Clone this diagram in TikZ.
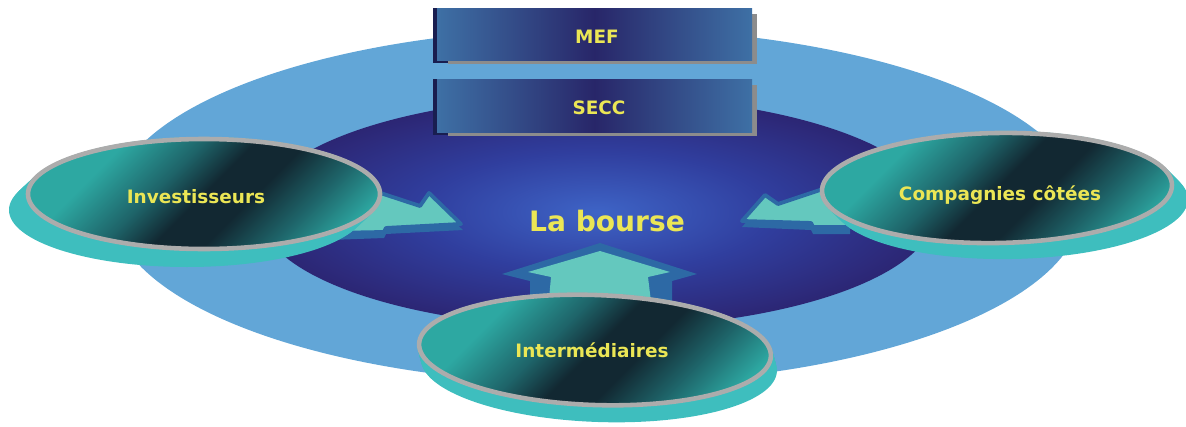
\documentclass[tikz,border=0pt]{standalone}
\usepackage{fontspec}
\setmainfont{DejaVu Sans}
\definecolor{lightbl}{RGB}{98,166,215}
\definecolor{navyedge}{RGB}{44,38,116}
\definecolor{navymid}{RGB}{48,62,158}
\definecolor{navyc}{RGB}{62,100,198}
\definecolor{tealL}{RGB}{45,168,162}
\definecolor{tealM}{RGB}{30,100,105}
\definecolor{tealD}{RGB}{18,40,50}
\definecolor{shadowT}{RGB}{62,190,190}
\definecolor{rimgray}{RGB}{172,172,172}
\definecolor{boxedge}{RGB}{62,112,165}
\definecolor{boxmid}{RGB}{40,38,105}
\definecolor{boxdark}{RGB}{25,30,80}
\definecolor{boxshadow}{RGB}{140,140,140}
\definecolor{arrowfill}{RGB}{100,200,190}
\definecolor{arrowline}{RGB}{45,105,165}
\definecolor{txtyellow}{RGB}{235,230,85}
\pgfdeclareradialshading{boursesh}{\pgfpoint{0bp}{0bp}}{color(0bp)=(navyc); color(13bp)=(navymid); color(25bp)=(navyedge); color(50bp)=(navyedge)}
\pgfdeclarehorizontalshading{discsh}{100bp}{color(0bp)=(tealL); color(30bp)=(tealL); color(42bp)=(tealM); color(50bp)=(tealD); color(58bp)=(tealD); color(68bp)=(tealM); color(78bp)=(tealL); color(100bp)=(tealL)}
\begin{document}
\begin{tikzpicture}[x=0.02cm,y=0.02cm,
  lbl/.style={text=txtyellow, font=\bfseries\fontsize{10.5}{12}\selectfont, inner sep=0pt},
  disc/.style={draw=rimgray, line width=2.6pt, shading=discsh, shading angle=-45},
  discshadow/.style={fill=shadowT},
  arrowbody/.style={fill=arrowfill, draw=arrowline, line width=2.2pt, line join=round},
  arrowshade/.style={fill=arrowline},
  boxfill/.style={left color=boxedge, right color=boxedge, middle color=boxmid}]
\useasboundingbox (0,0) rectangle (1186,-426);
% background ellipses
\fill[lightbl] (597,-206) ellipse [x radius=485, y radius=178];
\shade[shading=boursesh] (597,-212) ellipse [x radius=338, y radius=116];
% boxes
\fill[boxshadow] (448,-14) rectangle (757,-64);
\fill[boxdark] (433,-8) rectangle (448,-63);
\shade[boxfill] (437,-8) rectangle (752,-60);
\node[lbl] (mef) at (597,-37) {MEF};
\fill[boxshadow] (448,-85) rectangle (757,-136);
\fill[boxdark] (433,-79) rectangle (448,-135);
\shade[boxfill] (437,-79) rectangle (752,-132);
\node[lbl] (secc) at (599,-108) {SECC};
% arrows
\fill[arrowshade] (348,-188) -- (418,-213) -- (428,-199) -- (463,-230) -- (386,-234) -- (384,-238) -- (330,-240) -- cycle;
\path[arrowbody] (350,-183) -- (420,-206) -- (429,-193) -- (461,-224) -- (386,-228) -- (384,-232) -- (330,-233) -- cycle;
\fill[arrowshade] (742,-227) -- (765,-201) -- (778,-210) -- (850,-186) -- (850,-234) -- (813,-234) -- (811,-230) -- cycle;
\path[arrowbody] (742,-221) -- (765,-195) -- (778,-204) -- (850,-180) -- (850,-227) -- (813,-227) -- (811,-223) -- cycle;
\fill[arrowshade] (600,-243) -- (502,-274) -- (530,-281) -- (530,-310) -- (672,-310) -- (672,-281) -- (697,-274) -- cycle;
\fill[arrowfill] (600,-251) -- (528,-272) -- (551,-277) -- (548,-310) -- (652,-310) -- (648,-277) -- (670,-272) -- cycle;
% discs
\foreach \s in {0,1,...,16}
  \fill[discshadow, shift={(-\s*17/16,-\s)}] (204,-194) ellipse [x radius=178, y radius=57];
\shadedraw[disc] (204,-194) ellipse [x radius=176, y radius=55];
\node[lbl] (inv) at (196,-197) {Investisseurs};
\foreach \s in {0,1,...,14}
  \fill[discshadow, shift={(\s,-\s)}, rotate around={1:(997,-188)}] (997,-188) ellipse [x radius=177, y radius=57];
\shadedraw[disc, rotate around={1:(997,-188)}] (997,-188) ellipse [x radius=175, y radius=55];
\node[lbl] (comp) at (1000,-195) {Compagnies côtées};
\foreach \s in {0,1,...,15}
  \fill[discshadow, shift={(\s*4/15,-\s)}, rotate around={-2:(595,-350)}] (595,-350) ellipse [x radius=178, y radius=57];
\shadedraw[disc, rotate around={-2:(595,-350)}] (595,-350) ellipse [x radius=176, y radius=55];
\node[lbl] (inter) at (592,-350) {Intermédiaires};
% centre label
\node[lbl, font=\bfseries\fontsize{16}{19}\selectfont] (bourse) at (607,-221) {La bourse};
\end{tikzpicture}
\end{document}
